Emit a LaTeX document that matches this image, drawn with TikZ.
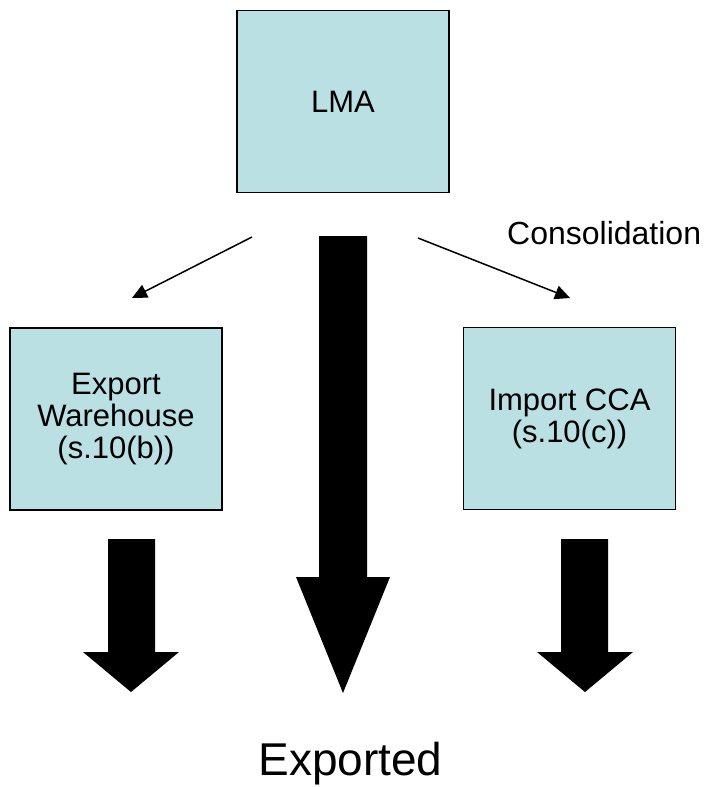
\documentclass[tikz,border=0pt]{standalone}
\usepackage{fontspec}
\setmainfont{Liberation Sans}
\usetikzlibrary{arrows.meta}
\definecolor{boxfill}{RGB}{187,224,227}
\tikzset{
  box/.style={draw=black, line width=1.8pt, fill=boxfill, minimum width=212pt, minimum height=182pt, inner sep=0pt, align=center, font=\fontsize{31}{32}\selectfont},
  thin/.style={line width=1.5pt, -{Triangle[length=15pt,width=14pt]}},
  block/.style={fill=black, draw=none}
}
\begin{document}
\begin{tikzpicture}[x=1pt,y=-1pt]
\useasboundingbox (0,0) rectangle (710,787);
\node[box] (lma) at (343,101.5) {LMA};
\node[box] (ew) at (116,419) {Export\\Warehouse\\(s.10(b))};
\node[box] (ic) at (569.5,418.5) {Import CCA\\(s.10(c))};
\node[anchor=base west, inner sep=0pt, font=\fontsize{32}{34}\selectfont] (cons) at (507,244) {Consolidation};
\node[anchor=base, inner sep=0pt, font=\fontsize{46}{50}\selectfont] (exp) at (350.5,775) {Exported};
% thin arrows
\coordinate (l1) at (252,237);
\coordinate (l2) at (132,298);
\coordinate (r1) at (418,238);
\coordinate (r2) at (570,298);
\draw[thin] (l1) -- (l2);
\draw[thin] (r1) -- (r2);
% block arrows
\fill[block] (319,236) -- (367,236) -- (367,577) -- (390,577) -- (343,693) -- (296,577) -- (319,577) -- cycle;
\fill[block] (108,539) -- (155,539) -- (155,652) -- (179,652) -- (131,692) -- (83,652) -- (108,652) -- cycle;
\fill[block] (561,539) -- (608,539) -- (608,652) -- (633,652) -- (585,692) -- (537,652) -- (561,652) -- cycle;
\end{tikzpicture}
\end{document}
